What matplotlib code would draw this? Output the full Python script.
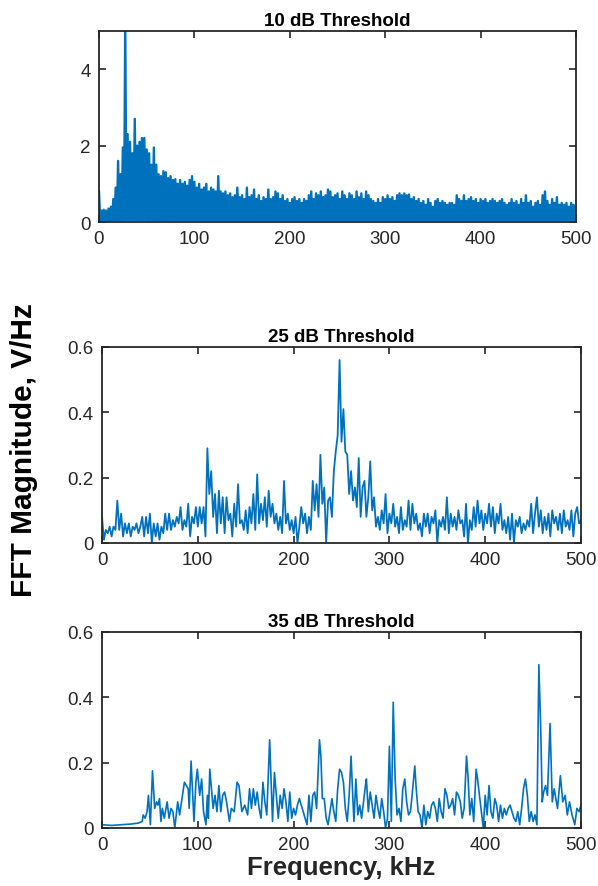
import numpy as np
import matplotlib
matplotlib.use("Agg")
import matplotlib.pyplot as plt

plt.rcParams['font.family'] = ['Liberation Sans', 'DejaVu Sans']

BLUE = '#0072BD'

# ---------------- 10 dB threshold (dense spectrum: peak envelope every 2.5 kHz) -------------
peaks10 = [
    0.8, 0.3, 0.32, 0.3, 0.35, 0.4, 0.6, 0.9, 1.6, 1.25,
    1.95, 5.2, 2.3, 2.1, 1.8, 2.7, 2.0, 2.1, 2.2, 2.2,
    1.9, 1.8, 1.5, 1.95, 1.5, 1.25, 1.2, 1.33, 1.3, 1.15,
    1.2, 1.1, 1.12, 1.0, 1.1, 1.0, 1.05, 0.95, 1.1, 1.2,
    1.05, 0.9, 1.0, 0.85, 0.9, 1.0, 0.8, 0.9, 0.85, 0.8,
    1.2, 0.8, 0.75, 0.8, 0.7, 0.75, 0.65, 0.7, 0.9, 0.65,
    0.7, 0.6, 0.9, 0.65, 0.7, 0.85, 0.6, 0.7, 0.55, 0.65,
    0.6, 0.85, 0.6, 0.65, 0.8, 0.75, 0.6, 0.7, 0.55, 0.6,
    0.5, 0.6, 0.65, 0.55, 0.6, 0.5, 0.6, 0.55, 0.7, 0.8,
    0.6, 0.75, 0.7, 0.8, 0.65, 0.7, 0.85, 0.8, 0.65, 0.7,
    0.75, 0.6, 0.8, 0.7, 0.6, 0.75, 0.7, 0.6, 0.8, 0.65,
    0.75, 0.6, 0.8, 0.7, 0.6, 0.55, 0.5, 0.6, 0.5, 0.65,
    0.6, 0.7, 0.6, 0.65, 0.55, 0.7, 0.75, 0.7, 0.75, 0.7,
    0.72, 0.6, 0.65, 0.55, 0.6, 0.5, 0.55, 0.45, 0.6, 0.5,
    0.4, 0.55, 0.6, 0.5, 0.55, 0.5, 0.45, 0.5, 0.5, 0.45,
    0.7, 0.6, 0.55, 0.7, 0.55, 0.6, 0.65, 0.55, 0.6, 0.5,
    0.6, 0.55, 0.6, 0.5, 0.55, 0.6, 0.55, 0.5, 0.55, 0.6,
    0.5, 0.45, 0.5, 0.6, 0.5, 0.55, 0.45, 0.6, 0.5, 0.7,
    0.5, 0.55, 0.4, 0.5, 0.55, 0.45, 0.7, 0.8, 0.55, 0.45,
    0.6, 0.5, 0.65, 0.45, 0.5, 0.45, 0.5, 0.4, 0.5, 0.45,
    0.4,
]
# floor of the band, one value per 25 kHz block
floor10 = [0.03, 0.04, 0.03, 0.02, 0.02, 0.02, 0.02, 0.02, 0.02, 0.02,
           0.02, 0.02, 0.02, 0.02, 0.02, 0.02, 0.02, 0.02, 0.02, 0.02]

# ---------------- 25 dB threshold (every 2 kHz) -------------
mag25 = [
    0.08, 0.01, 0.04, 0.03, 0.05, 0.02, 0.05, 0.04, 0.13, 0.04,
    0.09, 0.02, 0.06, 0.03, 0.06, 0.02, 0.05, 0.04, 0.06, 0.03,
    0.05, 0.08, 0.02, 0.08, 0.03, 0.09, 0.00, 0.06, 0.02, 0.06,
    0.01, 0.05, 0.03, 0.09, 0.04, 0.09, 0.04, 0.07, 0.05, 0.08,
    0.06, 0.11, 0.04, 0.07, 0.05, 0.12, 0.02, 0.08, 0.06, 0.11,
    0.05, 0.11, 0.06, 0.11, 0.02, 0.29, 0.15, 0.22, 0.08, 0.15,
    0.03, 0.16, 0.06, 0.14, 0.03, 0.14, 0.07, 0.09, 0.02, 0.12,
    0.05, 0.18, 0.06, 0.07, 0.04, 0.10, 0.03, 0.11, 0.06, 0.15,
    0.04, 0.21, 0.06, 0.12, 0.07, 0.14, 0.05, 0.16, 0.08, 0.12,
    0.06, 0.09, 0.04, 0.08, 0.03, 0.19, 0.06, 0.09, 0.04, 0.07,
    0.03, 0.08, 0.00, 0.05, 0.11, 0.06, 0.09, 0.03, 0.08, 0.04,
    0.19, 0.10, 0.18, 0.08, 0.27, 0.12, 0.17, 0.00, 0.13, 0.14,
    0.08, 0.22, 0.28, 0.33, 0.56, 0.31, 0.41, 0.28, 0.27, 0.15,
    0.22, 0.13, 0.17, 0.11, 0.26, 0.08, 0.17, 0.19, 0.08, 0.14,
    0.25, 0.10, 0.14, 0.05, 0.08, 0.04, 0.10, 0.06, 0.15, 0.03,
    0.09, 0.06, 0.12, 0.05, 0.08, 0.03, 0.11, 0.04, 0.07, 0.05,
    0.13, 0.04, 0.12, 0.06, 0.09, 0.04, 0.06, 0.02, 0.09, 0.05,
    0.09, 0.03, 0.08, 0.06, 0.10, 0.00, 0.07, 0.05, 0.08, 0.04,
    0.14, 0.03, 0.09, 0.05, 0.08, 0.04, 0.10, 0.06, 0.07, 0.02,
    0.12, 0.00, 0.07, 0.04, 0.11, 0.05, 0.13, 0.06, 0.10, 0.04,
    0.09, 0.06, 0.12, 0.05, 0.11, 0.03, 0.09, 0.06, 0.12, 0.04,
    0.07, 0.03, 0.08, 0.01, 0.09, 0.00, 0.07, 0.05, 0.08, 0.03,
    0.06, 0.04, 0.07, 0.05, 0.12, 0.03, 0.09, 0.14, 0.05, 0.10,
    0.03, 0.08, 0.04, 0.09, 0.02, 0.10, 0.06, 0.08, 0.04, 0.09,
    0.03, 0.10, 0.05, 0.07, 0.04, 0.10, 0.02, 0.09, 0.11, 0.06,
    0.07,
]

# ---------------- 35 dB threshold (read points) -------------
freq35 = [
    0, 10, 20, 30, 38, 42, 43, 45, 47, 48.5, 50.5, 52.7, 55, 57, 58.5, 60, 61.5, 63, 65, 68,
    70, 72, 74, 76, 79, 81, 84, 86, 88, 90, 91, 93, 96, 98, 99.5, 102, 104, 106, 108.5, 110,
    111, 112.5, 116, 118, 120, 122, 124, 126, 128, 130, 133, 135, 138, 141, 143, 146, 149, 152, 154, 156,
    158, 160, 162, 164, 166, 168, 170, 172, 175, 177, 178, 180, 182, 184, 186, 188, 190, 192, 194, 196,
    198, 200, 202, 204, 206, 208, 210, 212, 214, 216, 218, 220, 222, 224, 227, 228.5, 230, 232, 234, 236,
    238, 240, 242, 244, 246, 248, 250, 252, 254, 256, 258, 260, 262, 263, 265, 267, 269, 271, 273, 275,
    276, 278, 280, 282, 284, 286, 288, 290, 292, 294, 296, 298, 300, 302, 304, 306, 308, 310, 312, 314,
    316, 318, 320, 322, 324, 326.5, 328, 330, 332, 334, 336, 338, 340, 342, 344, 346, 348, 350, 352, 354,
    356, 358, 360, 362, 364, 366, 368, 370, 372, 374, 376, 378, 380.5, 382, 384, 386, 388, 390.5, 392, 394,
    396, 398, 400, 402, 404, 406, 408, 410, 412, 414, 416, 418, 420, 422, 424, 426, 428, 430, 432, 434,
    436, 438, 440, 442, 444, 446, 448, 450, 452, 454, 456, 458, 459.5, 461, 463, 465, 467.7, 470, 472, 475.5,
    478.5, 481, 483.5, 485.7, 488, 490.7, 493.5, 495.7, 498, 500,
]
mag35 = [
    0.01, 0.008, 0.01, 0.012, 0.015, 0.02, 0.04, 0.03, 0.05, 0.10, 0.01, 0.175, 0.06, 0.08, 0.07, 0.09, 0.02, 0.06, 0.03, 0.08,
    0.03, 0.06, 0.05, 0.0, 0.08, 0.04, 0.10, 0.14, 0.13, 0.12, 0.06, 0.205, 0.02, 0.14, 0.18, 0.10, 0.15, 0.05, 0.01, 0.10,
    0.03, 0.18, 0.06, 0.10, 0.05, 0.13, 0.05, 0.10, 0.11, 0.08, 0.02, 0.06, 0.05, 0.14, 0.13, 0.05, 0.07, 0.04, 0.12, 0.06,
    0.12, 0.07, 0.11, 0.06, 0.03, 0.14, 0.08, 0.04, 0.27, 0.10, 0.02, 0.17, 0.10, 0.03, 0.10, 0.06, 0.12, 0.08, 0.02, 0.11,
    0.03, 0.06, 0.04, 0.07, 0.09, 0.07, 0.05, 0.03, 0.01, 0.10, 0.02, 0.10, 0.11, 0.06, 0.27, 0.22, 0.09, 0.09, 0.03, 0.01,
    0.05, 0.09, 0.05, 0.02, 0.12, 0.18, 0.17, 0.14, 0.06, 0.02, 0.10, 0.22, 0.08, 0.02, 0.15, 0.04, 0.07, 0.03, 0.08, 0.13,
    0.15, 0.05, 0.11, 0.07, 0.03, 0.10, 0.06, 0.03, 0.09, 0.05, 0.0, 0.03, 0.25, 0.02, 0.385, 0.15, 0.04, 0.06, 0.02, 0.12,
    0.15, 0.08, 0.04, 0.05, 0.11, 0.19, 0.12, 0.05, 0.04, 0.0, 0.07, 0.01, 0.05, 0.03, 0.07, 0.08, 0.06, 0.02, 0.09, 0.05,
    0.03, 0.12, 0.10, 0.06, 0.07, 0.09, 0.04, 0.11, 0.10, 0.08, 0.03, 0.06, 0.22, 0.16, 0.04, 0.09, 0.02, 0.18, 0.15, 0.10,
    0.05, 0.0, 0.10, 0.04, 0.13, 0.05, 0.03, 0.09, 0.07, 0.02, 0.07, 0.03, 0.06, 0.04, 0.06, 0.07, 0.05, 0.03, 0.02, 0.05,
    0.01, 0.06, 0.12, 0.15, 0.10, 0.02, 0.05, 0.02, 0.04, 0.01, 0.50, 0.30, 0.08, 0.11, 0.13, 0.10, 0.32, 0.08, 0.12, 0.06,
    0.16, 0.08, 0.10, 0.04, 0.08, 0.04, 0.01, 0.06, 0.05, 0.07,
]

titles = ['10 dB Threshold', '25 dB Threshold', '35 dB Threshold']
xticks = [0, 100, 200, 300, 400, 500]
yticks10 = [0, 2, 4]
yticks_low = [0, 0.2, 0.4, 0.6]
ytick_labels_low = ['0', '0.2', '0.4', '0.6']

fig = plt.figure(figsize=(5.98, 8.87), dpi=100)
W, H = 598.0, 887.0
def box(l, r, t, b):
    return [l / W, (H - b) / H, (r - l) / W, (b - t) / H]

ax1 = fig.add_axes(box(99, 576, 32, 223))
ax2 = fig.add_axes(box(102, 581, 348, 544))
ax3 = fig.add_axes(box(102, 581, 633, 829))

# top: interleave peaks and floor
step10 = 500.0 / (len(peaks10) - 1)
xs10, ys10 = [], []
for i, p in enumerate(peaks10):
    f = i * step10
    xs10.append(f)
    ys10.append(p)
    if i < len(peaks10) - 1:
        xs10.append(f + step10 / 2)
        ys10.append(floor10[min(int((f + step10 / 2) // 25), len(floor10) - 1)])
ax1.plot(xs10, ys10, color=BLUE, lw=1.7)
ax1.set_ylim(0, 5)
ax1.set_yticks(yticks10)

f25 = np.linspace(0, 500, len(mag25))
ax2.plot(f25, mag25, color=BLUE, lw=1.3)
ax2.set_ylim(0, 0.6)
ax2.set_yticks(yticks_low)
ax2.set_yticklabels(ytick_labels_low)

ax3.plot(freq35, mag35, color=BLUE, lw=1.2)
ax3.set_ylim(0, 0.6)
ax3.set_yticks(yticks_low)
ax3.set_yticklabels(ytick_labels_low)

for ax, t in zip([ax1, ax2, ax3], titles):
    ax.set_xlim(0, 500)
    ax.set_xticks(xticks)
    ax.set_title(t, fontsize=13.5, fontweight='bold', pad=4, color='black')
    ax.tick_params(direction='in', top=True, right=True, length=5, width=1.2,
                   labelsize=13.5, colors='#262626', pad=6)
    for s in ax.spines.values():
        s.set_linewidth(1.3)
        s.set_color('#262626')

ax3.set_xlabel('Frequency, kHz', fontsize=18.5, fontweight='bold', color='#262626', labelpad=1)
fig.text(0.040, (H - 450) / H, 'FFT Magnitude, V/Hz', rotation=90, fontsize=21.5,
         fontweight='bold', ha='center', va='center', color='black')

fig.savefig('out.png', dpi=100)
